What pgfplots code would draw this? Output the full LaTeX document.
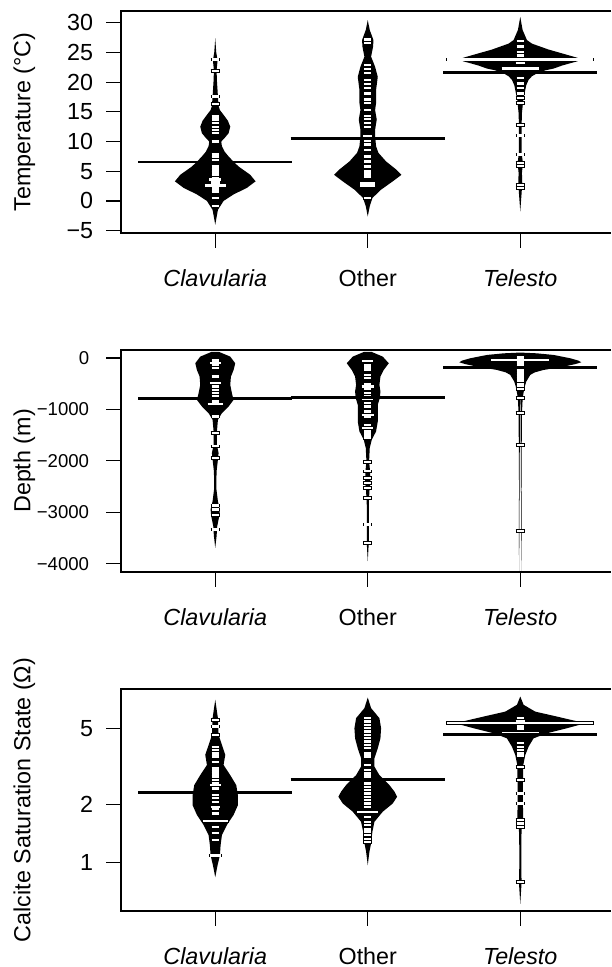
\documentclass[border=0pt]{standalone}
\usepackage{fontspec}
\setmainfont{Liberation Sans}
\usepackage{pgfplots}
\pgfplotsset{compat=1.18}
\usepgfplotslibrary{fillbetween}
\usepackage{pgfplotstable}

% ---------- bean shapes (value, half width in category units) ----------
\pgfplotstableread{
v w
-4.0 0
-1.5 0.0175
0.0 0.0546
1.1 0.1202
2.2 0.2077
3.3 0.2645
4.4 0.2295
5.0 0.1967
5.8 0.1530
6.6 0.1202
7.5 0.0874
8.3 0.0612
9.2 0.0437
10.0 0.0393
10.6 0.0612
11.4 0.0874
12.5 0.0984
13.5 0.0831
14.5 0.0546
15.3 0.0306
16.0 0.0219
17.6 0.0175
20.3 0.0109
22.0 0.0087
23.7 0.0153
25.0 0.0066
27.4 0
}\TcS
\pgfplotstableread{
v w
-2.6 0
-0.9 0.0131
0.5 0.0306
1.9 0.0874
3.3 0.1639
4.4 0.2208
5.3 0.1858
6.65 0.1202
8.1 0.0699
9.2 0.0546
10.9 0.0481
12.0 0.0481
13.7 0.0590
15.3 0.0481
16.5 0.0546
18.7 0.0546
20.9 0.0656
22.6 0.0481
24.3 0.0219
26.0 0.0350
27.1 0.0372
28.8 0.0131
30.45 0
}\ToS
\pgfplotstableread{
v w
-1.75 0
1.3 0.0087
3.0 0.0131
4.7 0.0109
6.4 0.0175
8.1 0.0087
10.3 0.0087
12.5 0.0087
14.8 0.0109
17.0 0.0197
18.7 0.0328
19.5 0.0393
20.4 0.0546
21.0 0.0765
21.5 0.1093
22.0 0.1639
22.3 0.2186
22.8 0.2732
23.2 0.3279
23.5 0.3716
23.85 0.4000
24.1 0.3760
24.3 0.3497
24.7 0.2951
25.1 0.2404
25.5 0.1858
26.0 0.1311
26.5 0.0765
27.1 0.0437
28.8 0.0153
31.0 0
}\TtS
\pgfplotstableread{
v w
-3689 0
-3463 0.0087
-3269 0.0131
-3075 0.0262
-2946 0.0306
-2784 0.0175
-2526 0.0066
-2203 0.0087
-1977 0.0175
-1847 0.0219
-1686 0.0109
-1428 0.0109
-1202 0.0175
-1072 0.0437
-943 0.0874
-814 0.1202
-685 0.1093
-523 0.0984
-362 0.1027
-233 0.1202
-103 0.1311
26 0.0984
116 0.0262
120 0
}\DcS
\pgfplotstableread{
v w
-3947 0
-3592 0.0066
-3237 0.0066
-2849 0.0066
-2590 0.0109
-2397 0.0175
-2203 0.0153
-2009 0.0087
-1750 0.0131
-1589 0.0262
-1428 0.0546
-1234 0.0656
-1040 0.0656
-911 0.0656
-781 0.0787
-652 0.0831
-523 0.0765
-362 0.0831
-233 0.1049
-103 0.1377
26 0.0984
116 0.0262
120 0
}\DoS
\pgfplotstableread{
v w
-4160 0.0075
-3366 0.0095
-2558 0.0080
-1686 0.0095
-1040 0.0115
-781 0.0160
-588 0.0262
-459 0.0393
-329 0.0656
-280 0.0950
-233 0.1530
-168 0.2842
-120 0.3600
-84 0.4000
-50 0.3800
-6 0.3279
58 0.2186
90 0.1093
105 0
}\DtS
\pgfplotstableread{
v w
0.84 0
0.97 0.0153
1.09 0.0306
1.23 0.0350
1.39 0.0437
1.57 0.0765
1.77 0.1202
1.99 0.1486
2.24 0.1486
2.53 0.1377
2.85 0.0984
3.22 0.0546
3.63 0.0656
4.09 0.0437
4.61 0.0219
5.64 0.0175
7.03 0
}\OcS
\pgfplotstableread{
v w
0.97 0
1.14 0.0109
1.26 0.0219
1.45 0.0306
1.63 0.0437
1.84 0.0984
2.03 0.1639
2.20 0.1923
2.34 0.1749
2.53 0.1421
2.85 0.0765
3.16 0.0437
3.49 0.0437
3.93 0.0656
4.43 0.0831
5.0 0.0874
5.64 0.0765
6.36 0.0219
7.22 0
}\OoS
\pgfplotstableread{
v w
0.61 0
0.79 0.0087
0.93 0.0066
1.23 0.0066
1.50 0.0087
1.63 0.0197
1.99 0.0175
2.53 0.0175
3.22 0.0197
3.63 0.0328
4.01 0.0546
4.43 0.0874
4.71 0.1749
5.0 0.3060
5.25 0.4044
5.41 0.3825
5.75 0.2404
6.1 0.0984
6.62 0.0219
7.31 0
}\OtS

% ---------- individual observations (value, half length) ----------
\pgfplotstableread{
v w
23.85 0.024
21.9 0.024
17.6 0.024
16.3 0.024
14.2 0.024
13.7 0.024
13.1 0.024
12.5 0.024
12.0 0.024
11.4 0.024
10.0 0.024
7.8 0.024
7.4 0.024
6.9 0.024
5.8 0.024
5.3 0.024
4.8 0.024
4.4 0.024
3.9 0.024
3.6 0.04
3.1 0.03
2.6 0.068
2.2 0.024
1.8 0.024
1.45 0.024
0.5 0.024
-0.8 0.024
}\TcL
\pgfplotstableread{
v w
27.2 0.024
26.6 0.024
22.9 0.024
22.2 0.024
21.5 0.024
20.4 0.024
19.7 0.024
19.0 0.024
18.1 0.024
17.1 0.024
16.5 0.024
15.3 0.024
14.3 0.024
13.8 0.024
13.1 0.024
12.5 0.024
10.85 0.03
10.1 0.024
9.5 0.024
8.6 0.024
7.5 0.024
6.65 0.024
5.8 0.024
5.0 0.024
4.6 0.024
4.1 0.024
3.0 0.05
2.6 0.05
0.5 0.024
}\ToL
\pgfplotstableread{
v w
27.0 0.024
26.0 0.024
25.1 0.024
24.5 0.024
23.85 0.48
23.2 0.03
22.3 0.122
21.5 0.024
20.7 0.024
19.8 0.024
19.0 0.024
18.1 0.024
17.3 0.024
16.5 0.024
12.8 0.024
11.0 0.024
7.8 0.024
6.4 0.024
5.9 0.024
2.7 0.024
2.2 0.024
}\TtL
\pgfplotstableread{
v w
-39 0.024
-71 0.024
-103 0.035
-136 0.024
-200 0.024
-362 0.024
-491 0.035
-556 0.024
-620 0.024
-685 0.024
-749 0.024
-814 0.024
-859 0.024
-898 0.05
-1137 0.024
-1460 0.024
-1718 0.024
-1944 0.024
-2868 0.024
-2946 0.024
-3056 0.024
-3333 0.024
}\DcL
\pgfplotstableread{
v w
-58 0.035
-136 0.024
-187 0.024
-233 0.024
-329 0.024
-394 0.024
-510 0.024
-556 0.04
-601 0.024
-685 0.024
-749 0.024
-795 0.035
-879 0.024
-943 0.024
-1040 0.024
-1105 0.04
-1137 0.024
-1298 0.024
-1363 0.035
-1415 0.024
-1460 0.024
-1505 0.024
-1557 0.024
-2022 0.024
-2203 0.024
-2332 0.024
-2429 0.024
-2526 0.024
-2720 0.024
-3237 0.024
-3592 0.024
}\DoL
\pgfplotstableread{
v w
15 0.024
-5 0.024
-25 0.024
-45 0.19
-65 0.024
-85 0.024
-105 0.024
-130 0.024
-160 0.024
-200 0.024
-230 0.024
-260 0.024
-300 0.024
-330 0.024
-360 0.024
-400 0.024
-450 0.024
-500 0.024
-550 0.024
-600 0.024
-781 0.024
-1072 0.024
-1686 0.024
-3366 0.024
}\DtL
\pgfplotstableread{
v w
5.53 0.024
5.10 0.024
4.61 0.024
4.01 0.024
3.85 0.024
3.70 0.024
3.56 0.024
3.35 0.024
3.09 0.024
2.99 0.024
2.91 0.024
2.80 0.024
2.69 0.024
2.58 0.024
2.53 0.035
2.43 0.024
2.32 0.024
2.24 0.024
2.16 0.024
2.07 0.024
1.95 0.03
1.90 0.024
1.80 0.024
1.64 0.083
1.53 0.024
1.42 0.024
1.31 0.024
1.09 0.035
}\OcL
\pgfplotstableread{
v w
5.64 0.024
5.42 0.024
5.20 0.024
5.00 0.024
4.80 0.024
4.61 0.024
4.43 0.024
4.26 0.024
4.09 0.024
3.93 0.024
3.70 0.024
3.56 0.024
3.22 0.024
3.03 0.024
2.91 0.024
2.80 0.024
2.69 0.024
2.58 0.024
2.48 0.024
2.38 0.024
2.29 0.024
2.20 0.024
2.11 0.024
2.03 0.024
1.95 0.024
1.84 0.07
1.73 0.024
1.63 0.024
1.57 0.024
1.50 0.024
1.45 0.024
1.39 0.024
1.33 0.024
1.28 0.024
}\OoL
\pgfplotstableread{
v w
5.64 0.024
5.45 0.03
5.31 0.48
5.10 0.024
4.96 0.024
4.72 0.12
4.18 0.024
4.01 0.024
3.85 0.024
3.70 0.024
3.60 0.024
3.15 0.024
2.69 0.024
2.29 0.024
2.03 0.024
1.66 0.024
1.60 0.024
1.53 0.024
0.79 0.024
}\OtL

% ---------- bean average lines (category position, mean) ----------
\pgfplotstableread{
c v
1 6.55
2 10.5
3 21.7
}\TM
\pgfplotstableread{
c v
1 -795
2 -762
3 -187
}\DM
\pgfplotstableread{
c v
1 2.32
2 2.70
3 4.65
}\OM

% #1 position, #2 table, #3 name, #4 y expression
\newcommand{\bean}[4]{%
  \addplot[draw=none, forget plot, name path=R#3] table[x expr=#1+\thisrow{w}, y expr={#4}] {#2};
  \addplot[draw=none, forget plot, name path=L#3] table[x expr=#1-\thisrow{w}, y expr={#4}] {#2};
  \addplot[fill=black, draw=none, forget plot] fill between[of=R#3 and L#3];
}
% individual observations: black rim, then white line (quiver segments)
\newcommand{\blines}[3]{%
  \addplot[forget plot, black, line width=1.8pt,
    quiver={u=\thisrow{u}, v=0}]
    table[x expr=#1-\thisrow{w}-0.006, y expr={#3},
      create on use/u/.style={create col/expr={2*\thisrow{w}+0.012}}] {#2};
  \addplot[forget plot, white, line width=1.15pt,
    quiver={u=\thisrow{u}, v=0}]
    table[x expr=#1-\thisrow{w}, y expr={#3},
      create on use/u/.style={create col/expr={2*\thisrow{w}}}] {#2};
}
% bean average lines, 1.01 category units long
\newcommand{\means}[2]{%
  \addplot[forget plot, black, line width=1.4pt, quiver={u=1.01, v=0}]
    table[x expr=\thisrow{c}-0.505, y expr={#2}] {#1};
}
\newcommand{\frameit}{%
  \draw[black, line width=0.6pt] (rel axis cs:1,1) -- (rel axis cs:0,1)
    -- (rel axis cs:0,0) -- (rel axis cs:1,0);
}

\newcommand{\lab}{\fontsize{11.65}{14}\selectfont}
\newcommand{\labs}{\fontsize{9.3}{11}\selectfont}

\pgfplotsset{
  beanaxis/.style={
    scale only axis, width=245pt, height=111pt,
    xmin=0.382, xmax=3.595, clip=false,
    xtick={1,2,3},
    xticklabels={\textit{Clavularia}, Other, \textit{Telesto}},
    xtick pos=left, ytick pos=left,
    tick align=outside, major tick length=7.5pt,
    tick style={black, line width=0.6pt},
    axis line style={draw=none},
    xticklabel style={font=\lab, anchor=base, yshift=-19.4pt},
    yticklabel style={font=\lab, anchor=east, inner sep=0pt, xshift=-6.25pt},
    ylabel style={font=\lab, at={(axis description cs:-0.185,0.5)}, anchor=base},
  }
}

\begin{document}
\begin{tikzpicture}

% ---------------- Temperature ----------------
\begin{axis}[beanaxis, at={(60.5pt,367pt)}, anchor=south west,
  ymin=-5.4, ymax=32,
  ytick={-5,0,5,10,15,20,25,30},
  yticklabels={−5,0,5,10,15,20,25,30},
  ylabel={Temperature (°C)}]
\bean{1}{\TcS}{a}{\thisrow{v}}
\bean{2}{\ToS}{b}{\thisrow{v}}
\bean{3}{\TtS}{c}{\thisrow{v}}
\blines{1}{\TcL}{\thisrow{v}}
\blines{2}{\ToL}{\thisrow{v}}
\blines{3}{\TtL}{\thisrow{v}}
\means{\TM}{\thisrow{v}}
\frameit
\end{axis}

% ---------------- Depth ----------------
\begin{axis}[beanaxis, at={(60.5pt,197.5pt)}, anchor=south west,
  ymin=-4160, ymax=155,
  ytick={-4000,-3000,-2000,-1000,0},
  yticklabels={−4000,−3000,−2000,−1000,0},
  yticklabel style={font=\labs, xshift=-2pt},
  ylabel={Depth (m)}]
\bean{1}{\DcS}{d}{\thisrow{v}}
\bean{2}{\DoS}{e}{\thisrow{v}}
\bean{3}{\DtS}{f}{\thisrow{v}}
\blines{1}{\DcL}{\thisrow{v}}
\blines{2}{\DoL}{\thisrow{v}}
\blines{3}{\DtL}{\thisrow{v}}
\means{\DM}{\thisrow{v}}
\frameit
\end{axis}

% ---------------- Calcite saturation (log10 scale) ----------------
\begin{axis}[beanaxis, at={(60.5pt,28pt)}, anchor=south west,
  ymin=-0.2518, ymax=0.9031,
  ytick={0,0.30103,0.69897}, yticklabels={1,2,5},
  ylabel={Calcite Saturation State (Ω)}]
\bean{1}{\OcS}{g}{ln(\thisrow{v})/ln(10)}
\bean{2}{\OoS}{h}{ln(\thisrow{v})/ln(10)}
\bean{3}{\OtS}{i}{ln(\thisrow{v})/ln(10)}
\blines{1}{\OcL}{ln(\thisrow{v})/ln(10)}
\blines{2}{\OoL}{ln(\thisrow{v})/ln(10)}
\blines{3}{\OtL}{ln(\thisrow{v})/ln(10)}
\means{\OM}{ln(\thisrow{v})/ln(10)}
\frameit
\end{axis}
\pgfresetboundingbox
\useasboundingbox (0,0) rectangle (305.5pt,483.5pt);
\end{tikzpicture}
\end{document}
